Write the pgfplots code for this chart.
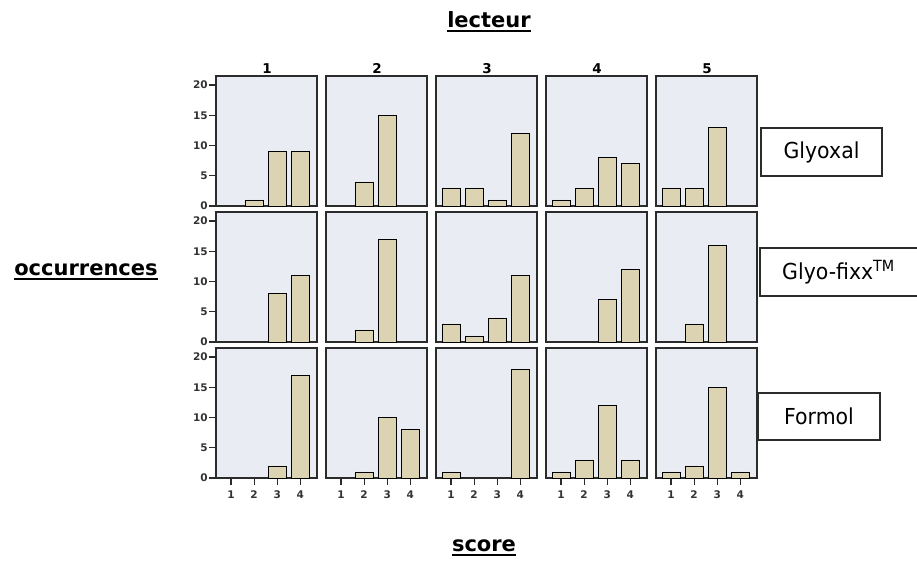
\documentclass[border=0pt]{standalone}
\usepackage{pgfplots}
\pgfplotsset{compat=1.18}
\usepackage{pgfplotstable}
\usepgfplotslibrary{groupplots}
\usepackage{fontspec}
\setmainfont{DejaVu Sans}
\newfontfamily\boxfont{DejaVu Sans}[FakeStretch=0.93]

\definecolor{panelbg}{HTML}{E9EDF3}
\definecolor{barfill}{HTML}{DCD3B2}
\definecolor{frame}{HTML}{2B2B2B}

% score counts per lecteur (L1..L5), one table per fixative
\pgfplotstableread{
score L1 L2 L3 L4 L5
1 0 0 3 1 3
2 1 4 3 3 3
3 9 15 1 8 13
4 9 0 12 7 0
}\glyoxal
\pgfplotstableread{
score L1 L2 L3 L4 L5
1 0 0 3 0 0
2 0 2 1 0 3
3 8 17 4 7 16
4 11 0 11 12 0
}\glyofixx
\pgfplotstableread{
score L1 L2 L3 L4 L5
1 0 0 1 1 1
2 0 1 0 3 2
3 2 10 0 12 15
4 17 8 18 3 1
}\formol

\newcommand\titlefont{\fontsize{21}{24}\selectfont\bfseries}

\pgfplotsset{
    panel/.style={
        width=101pt, height=130pt, scale only axis,
        ybar, /pgf/bar width=0.76,
        xmin=0.35, xmax=4.72, ymin=0, ymax=21.5,
        xtick=\empty, ytick=\empty,
        axis background/.style={fill=panelbg},
        axis line style={draw=frame, line width=1.5pt},
        tick align=outside, major tick length=7pt,
        tick style={draw=frame, line width=1.2pt},
        ytick pos=left, xtick pos=bottom,
        /pgf/number format/assume math mode=true,
        ticklabel style={font=\fontsize{10.5}{11}\selectfont\bfseries, text=black!80},
        yticklabel style={inner xsep=1pt},
        xticklabel style={yshift=-2pt},
        cycle list={{fill=barfill, draw=frame, line width=1.1pt}},
        y filter/.expression={y==0 ? nan : y},
    },
    lcol/.style={ytick={0,5,10,15,20}},
    brow/.style={xtick={1,2,3,4}},
}

\begin{document}
\begin{tikzpicture}
\begin{groupplot}[
    group style={group size=5 by 3, horizontal sep=9pt, vertical sep=6pt},
    panel,
]
% Glyoxal
\nextgroupplot[lcol]
\addplot table[x=score, y=L1] {\glyoxal};
\nextgroupplot
\addplot table[x=score, y=L2] {\glyoxal};
\nextgroupplot
\addplot table[x=score, y=L3] {\glyoxal};
\nextgroupplot
\addplot table[x=score, y=L4] {\glyoxal};
\nextgroupplot
\addplot table[x=score, y=L5] {\glyoxal};
% Glyo-fixx
\nextgroupplot[lcol]
\addplot table[x=score, y=L1] {\glyofixx};
\nextgroupplot
\addplot table[x=score, y=L2] {\glyofixx};
\nextgroupplot
\addplot table[x=score, y=L3] {\glyofixx};
\nextgroupplot
\addplot table[x=score, y=L4] {\glyofixx};
\nextgroupplot
\addplot table[x=score, y=L5] {\glyofixx};
% Formol
\nextgroupplot[lcol, brow]
\addplot table[x=score, y=L1] {\formol};
\nextgroupplot[brow]
\addplot table[x=score, y=L2] {\formol};
\nextgroupplot[brow]
\addplot table[x=score, y=L3] {\formol};
\nextgroupplot[brow]
\addplot table[x=score, y=L4] {\formol};
\nextgroupplot[brow]
\addplot table[x=score, y=L5] {\formol};
\end{groupplot}

% page origin (top left), in reference pixels
\path (group c1r1.north west) ++(-216pt,76pt) coordinate (TL);

% column headers
\foreach \i/\cx in {1/267,2/377,3/487,4/597,5/707}
  \node[font=\fontsize{13.5}{14}\selectfont\bfseries, anchor=base, inner sep=0pt] at ([shift={(\cx pt,-73pt)}]TL) {\i};

% titles
\node[font=\titlefont, inner sep=0pt] (lec) at ([shift={(489pt,-20pt)}]TL) {lecteur};
\draw[line width=1.8pt] (lec.base west) ++(0,-3.5pt) -- ([yshift=-3.5pt]lec.base east);
\node[font=\titlefont, inner sep=0pt] (occ) at ([shift={(86pt,-270pt)}]TL) {occurrences};
\draw[line width=1.8pt] (occ.base west) ++(0,-3.5pt) -- ([yshift=-3.5pt]occ.base east);
\node[font=\titlefont, inner sep=0pt] (sc) at ([shift={(484pt,-546pt)}]TL) {score};
\draw[line width=1.8pt] (sc.base west) ++(0,-3.5pt) -- ([yshift=-3.5pt]sc.base east);

% row labels
\draw[line width=1.4pt, draw=frame] ([shift={(761pt,-128pt)}]TL) rectangle ([shift={(882pt,-176pt)}]TL);
\node[font=\boxfont\fontsize{22}{24}\selectfont] at ([shift={(821.5pt,-152pt)}]TL) {Glyoxal};
\draw[line width=1.4pt, draw=frame] ([shift={(760pt,-248pt)}]TL) rectangle ([shift={(930pt,-296pt)}]TL);
\node[font=\boxfont\fontsize{22}{24}\selectfont, anchor=west, inner xsep=0pt] at ([shift={(782pt,-272pt)}]TL) {Glyo-fixx\textsuperscript{TM}};
\draw[line width=1.4pt, draw=frame] ([shift={(758pt,-393pt)}]TL) rectangle ([shift={(880pt,-440pt)}]TL);
\node[font=\boxfont\fontsize{22}{24}\selectfont] at ([shift={(819pt,-416.5pt)}]TL) {Formol};

\pgfresetboundingbox
\path[use as bounding box] (TL) rectangle ++(917pt,-560pt);
\end{tikzpicture}
\end{document}
